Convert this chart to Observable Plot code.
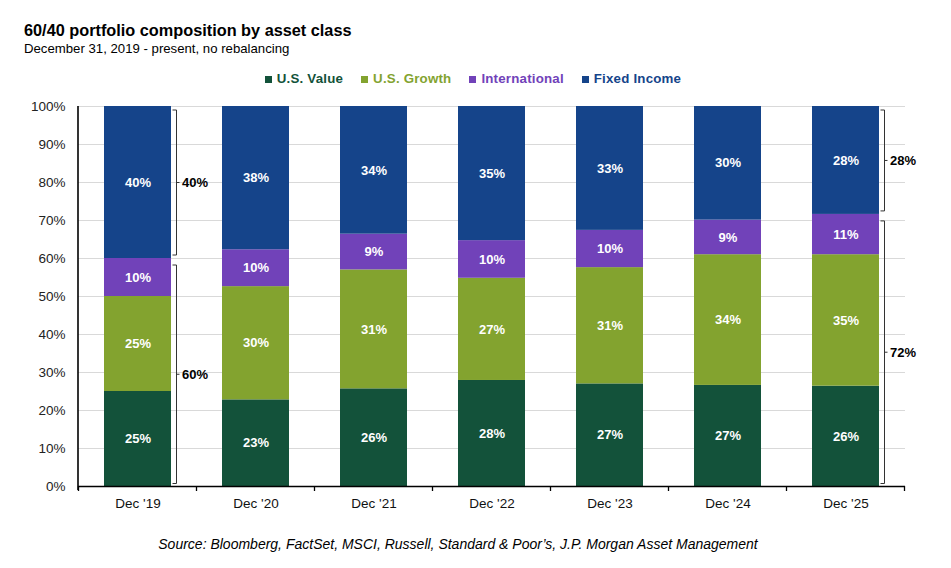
<!DOCTYPE html>
<html>
<head>
<meta charset="utf-8">
<script src="https://cdn.jsdelivr.net/npm/d3@7"></script>
<script src="https://cdn.jsdelivr.net/npm/@observablehq/plot@0.6"></script>
<style>
  html, body { margin: 0; padding: 0; background: #fff; }
  body { width: 951px; height: 568px; position: relative; overflow: hidden; font-family: "Liberation Sans", Arial, sans-serif; color: #000; }
  #title { position: absolute; left: 24px; top: 21px; font-size: 16.3px; font-weight: bold; line-height: 19px; }
  #subtitle { position: absolute; left: 24px; top: 41px; font-size: 13.2px; line-height: 15px; }
  #legend { position: absolute; left: 0; width: 946px; top: 71px; display: flex; justify-content: center; gap: 18px; font-size: 13.3px; font-weight: bold; line-height: 16px; letter-spacing: 0.2px; }
  #legend .item { display: flex; align-items: center; }
  #legend .sw { width: 7px; height: 7px; margin-right: 5px; }
  #chart { position: absolute; left: 0; top: 90px; }
  #caption { position: absolute; left: 0; width: 916px; text-align: center; top: 536px; font-size: 14px; font-style: italic; line-height: 17px; }
</style>
</head>
<body>
<div id="title">60/40 portfolio composition by asset class</div>
<div id="subtitle">December 31, 2019 - present, no rebalancing</div>
<div id="legend"></div>
<div id="chart"></div>
<div id="caption">Source: Bloomberg, FactSet, MSCI, Russell, Standard &amp; Poor’s, J.P. Morgan Asset Management</div>
<script>
const categories = ["Dec '19", "Dec '20", "Dec '21", "Dec '22", "Dec '23", "Dec '24", "Dec '25"];
const assetClasses = ["U.S. Value", "U.S. Growth", "International", "Fixed Income"];
const colors = ["#13523a", "#83a32f", "#7142b9", "#15448a"];
const usValue      = [25.0, 22.8, 25.7, 27.9, 27.0, 26.6, 26.4];
const usGrowth     = [25.0, 29.8, 31.3, 26.9, 30.6, 34.4, 34.6];
const international= [10.0,  9.7,  9.4,  9.9,  9.8,  9.1, 10.6];
const fixedIncome  = [40.0, 37.7, 33.6, 35.3, 32.6, 29.9, 28.4];
const yTicks = [0, 10, 20, 30, 40, 50, 60, 70, 80, 90, 100];
const bracketCategories = ["Dec '19", "Dec '25"];

const series = [usValue, usGrowth, international, fixedIncome];
const data = categories.flatMap((c, i) => assetClasses.map((a, j) => ({cat: c, asset: a, value: series[j][i]})));

// legend
const legend = document.getElementById("legend");
assetClasses.forEach((a, j) => {
  const it = document.createElement("div");
  it.className = "item";
  it.innerHTML = `<span class="sw" style="background:${colors[j]}"></span><span style="color:${colors[j]}">${a}</span>`;
  legend.appendChild(it);
});

// brackets (equity vs fixed income) for first and last bars
const brackets = bracketCategories.flatMap(c => {
  const i = categories.indexOf(c);
  const equity = usValue[i] + usGrowth[i] + international[i];
  return [
    {cat: c, lo: equity, hi: 100, part: "upper", label: Math.round(100 - equity) + "%"},
    {cat: c, lo: 0, hi: equity, part: "lower", label: Math.round(equity) + "%"}
  ];
});

function decorations(index, scales, values, dimensions) {
  const x = scales.x, y = scales.y;
  const bw = typeof x.bandwidth === "function" ? x.bandwidth() : scales.scales.x.bandwidth;
  const step = typeof x.step === "function" ? x.step() : scales.scales.x.step;
  const g = d3.create("svg:g");
  const {marginLeft, marginTop, height, marginBottom} = dimensions;
  const bottom = height - marginBottom;
  // y axis line
  g.append("line").attr("x1", marginLeft).attr("x2", marginLeft).attr("y1", marginTop).attr("y2", bottom + 4)
    .attr("stroke", "#000").attr("stroke-width", 1.6);
  // x boundary ticks
  const gap = (step - bw) / 2;
  const bounds = categories.map(c => x(c) - gap).concat([x(categories[categories.length - 1]) + bw + gap]);
  bounds.forEach(b => {
    g.append("line").attr("x1", b).attr("x2", b).attr("y1", bottom).attr("y2", bottom + 5)
      .attr("stroke", "#000").attr("stroke-width", 1.3);
  });
  // brackets
  brackets.forEach(d => {
    const right = x(d.cat) + bw;
    const vx = right + 5.5;
    let yTop = y(d.hi), yBot = y(d.lo);
    if (d.part === "upper") { yTop += 4; yBot -= 3; } else { yTop += 7; yBot -= 2.5; }
    const mid = (yTop + yBot) / 2;
    g.append("path")
      .attr("d", `M${vx - 4},${yTop}H${vx}V${yBot}H${vx - 4}M${vx},${mid}H${vx + 3}`)
      .attr("fill", "none").attr("stroke", "#333").attr("stroke-width", 1);
    g.append("text").attr("x", vx + 5.5).attr("y", mid).attr("dy", "0.35em")
      .attr("text-anchor", "start")
      .attr("font-size", 13).attr("font-weight", "bold").attr("fill", "#000").text(d.label);
  });
  return g.node();
}

const chart = Plot.plot({
  width: 951,
  height: 430,
  marginLeft: 78,
  marginRight: 46,
  marginTop: 16,
  marginBottom: 34,
  style: {fontFamily: "'Liberation Sans', Arial, sans-serif", fontSize: "13px", color: "#000", background: "#fff"},
  x: {domain: categories, paddingInner: 0.43, paddingOuter: 0.215, label: null},
  y: {domain: [0, 100], label: null},
  color: {domain: assetClasses, range: colors},
  marks: [
    Plot.gridY(yTicks, {stroke: "#d9d9d9", strokeOpacity: 1, strokeWidth: 1}),
    Plot.barY(data, Plot.stackY({x: "cat", y: "value", fill: "asset", order: null})),
    Plot.text(data, Plot.stackY({x: "cat", y: "value", z: "asset", order: null,
      text: d => Math.round(d.value) + "%", fill: "white", fontWeight: "bold", fontSize: 13})),
    Plot.ruleY([0], {stroke: "#000", strokeWidth: 1.6}),
    decorations,
    Plot.axisY(yTicks, {tickSize: 0, tickPadding: 13, tickFormat: d => d + "%", fontSize: 13.5, fill: "#222", label: null}),
    Plot.axisX({tickSize: 0, tickPadding: 12, fontSize: 13.5, fill: "#111", label: null})
  ]
});
document.getElementById("chart").appendChild(chart);
</script>
</body>
</html>
